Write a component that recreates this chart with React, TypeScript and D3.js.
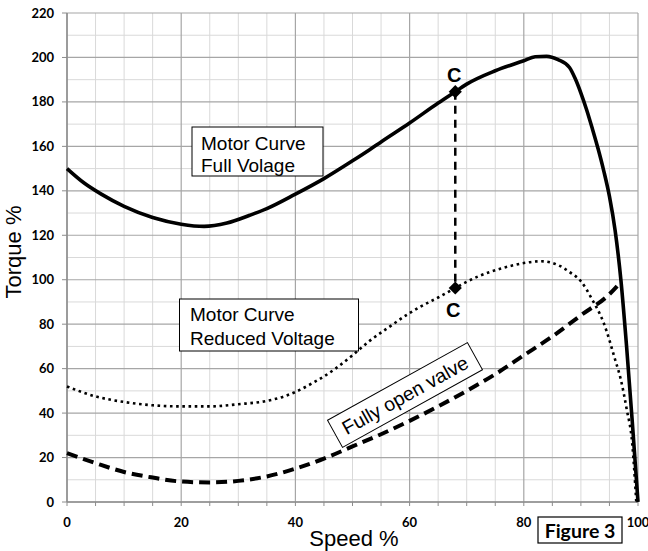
import React from "react";
import * as d3 from "d3";

const W = 648, H = 551;
const M = { left: 67, right: 638, top: 13, bottom: 502 };

const xTicks = [0, 20, 40, 60, 80, 100];
const yTicks = [0, 20, 40, 60, 80, 100, 120, 140, 160, 180, 200, 220];

const fullSpeed = [0, 3, 6, 10, 15, 20, 24, 28, 32, 35, 40, 45, 50, 53, 55, 60, 65, 68, 70, 75, 80, 82, 84, 86, 88, 89, 90, 91, 92, 93, 94, 95, 96, 97, 98, 99, 100];
const fullTorque = [150, 143.5, 138.5, 133, 128, 125, 124, 125.5, 129, 132, 138.5, 145.5, 153.5, 158.5, 162, 170.5, 179.5, 184.6, 188, 194, 198.5, 200.3, 200.5, 199, 195.5, 190.5, 184, 176.5, 168, 159, 149, 137.5, 122, 100, 70, 36, 0];

const reducedSpeed = [0, 5, 10, 15, 20, 25, 30, 35, 38, 40, 43, 45, 47, 50, 53, 56, 60, 62, 65, 68, 72, 76, 80, 83, 86, 88, 90, 92, 94, 96, 97, 98, 99, 99.7];
const reducedTorque = [52, 47.5, 45, 43.5, 43, 43, 44, 45.5, 47.5, 49.5, 53.5, 56.5, 60, 66, 72.5, 78, 85, 88, 92, 96.3, 101.5, 105, 107.5, 108.3, 106.6, 103.5, 99.3, 91, 80.5, 64, 55, 42, 26, 0];

const valveSpeed = [0, 5, 10, 15, 20, 25, 30, 35, 40, 45, 50, 55, 60, 65, 70, 75, 80, 85, 90, 95, 97];
const valveTorque = [22, 17.5, 13.5, 11, 9.2, 8.8, 9.5, 11.5, 15, 19.5, 25, 30.5, 36.5, 43, 50, 57.5, 66, 74.5, 84, 93.5, 99];

const pointC = { speed: 68, full: 184.6, reduced: 96.3 };

const x = d3.scaleLinear().domain([0, 100]).range([M.left, M.right]);
const y = d3.scaleLinear().domain([0, 220]).range([M.bottom, M.top]);

function pathOf(xs: number[], ys: number[]) {
  const line = d3.line<number>().x((_, i) => x(xs[i])).y((_, i) => y(ys[i])).curve(d3.curveMonotoneX);
  return line(xs.map((_, i) => i)) || "";
}

export default function App() {
  const xMinor = d3.range(0, 101, 5);
  const yMinor = d3.range(0, 221, 10);
  const diamond = d3.symbol().type(d3.symbolDiamond2).size(110)() || "";
  const cx = x(pointC.speed);
  const angle = -29;
  return (
    <svg width={W} height={H} style={{ position: "absolute", left: 0, top: 0, background: "#fff" }}>
      <rect width={W} height={H} fill="#fff" />
      {xMinor.filter((v) => v % 20 !== 0).map((v) => (
        <line key={"xm" + v} x1={x(v)} x2={x(v)} y1={M.top} y2={M.bottom} stroke="#d9d9d9" strokeWidth={1} />
      ))}
      {yMinor.filter((v) => v % 20 !== 0).map((v) => (
        <line key={"ym" + v} x1={M.left} x2={M.right} y1={y(v)} y2={y(v)} stroke="#d9d9d9" strokeWidth={1} />
      ))}
      {xTicks.map((v) => (
        <line key={"xM" + v} x1={x(v)} x2={x(v)} y1={M.top} y2={M.bottom} stroke="#a6a6a6" strokeWidth={1.2} />
      ))}
      {yTicks.map((v) => (
        <line key={"yM" + v} x1={M.left} x2={M.right} y1={y(v)} y2={y(v)} stroke="#a6a6a6" strokeWidth={1.2} />
      ))}
      <line x1={M.left} x2={M.left} y1={M.top} y2={M.bottom} stroke="#8c8c8c" strokeWidth={1.5} />
      <line x1={M.left} x2={M.right} y1={M.bottom} y2={M.bottom} stroke="#8c8c8c" strokeWidth={1.5} />
      {xMinor.map((v) => (
        <line key={"xt" + v} x1={x(v)} x2={x(v)} y1={M.bottom} y2={M.bottom + 4} stroke="#8c8c8c" strokeWidth={1} />
      ))}
      {yTicks.map((v) => (
        <line key={"yt" + v} x1={M.left - 5} x2={M.left} y1={y(v)} y2={y(v)} stroke="#8c8c8c" strokeWidth={1} />
      ))}
      {yTicks.map((v) => (
        <text key={"yl" + v} x={54} y={y(v) + 4.5} textAnchor="end" fontFamily="Lato" fontWeight="bold" fontSize={13} fill="#000">{v}</text>
      ))}
      {xTicks.map((v) => (
        <text key={"xl" + v} x={x(v)} y={527} textAnchor="middle" fontFamily="Lato" fontWeight="bold" fontSize={13} fill="#000">{v}</text>
      ))}
      <text x={354} y={546} textAnchor="middle" fontFamily="Liberation Sans" fontSize={22} fill="#000">Speed %</text>
      <text transform={`translate(21,252) rotate(-90)`} textAnchor="middle" fontFamily="Liberation Sans" fontSize={22} fill="#000">Torque %</text>

      <path d={pathOf(valveSpeed, valveTorque)} fill="none" stroke="#000" strokeWidth={4} strokeDasharray="11 6" />
      <path d={pathOf(reducedSpeed, reducedTorque)} fill="none" stroke="#000" strokeWidth={2.6} strokeDasharray="2.6 3.6" />
      <path d={pathOf(fullSpeed, fullTorque)} fill="none" stroke="#000" strokeWidth={3.6} strokeLinejoin="round" />

      <line x1={cx} x2={cx} y1={y(pointC.full)} y2={y(pointC.reduced)} stroke="#000" strokeWidth={2.5} strokeDasharray="8 6" />
      <path d={diamond} transform={`translate(${cx},${y(pointC.full)})`} fill="#000" />
      <path d={diamond} transform={`translate(${cx},${y(pointC.reduced)})`} fill="#000" />
      <text x={cx - 1} y={82} textAnchor="middle" fontFamily="Liberation Sans" fontWeight="bold" fontSize={20} fill="#000">C</text>
      <text x={cx - 2} y={317} textAnchor="middle" fontFamily="Liberation Sans" fontWeight="bold" fontSize={20} fill="#000">C</text>

      <rect x={192} y={127} width={131} height={49} fill="#fff" stroke="#000" strokeWidth={1} />
      <text x={201} y={149.5} fontFamily="Liberation Sans" fontSize={19} fill="#000">Motor Curve</text>
      <text x={201} y={172} fontFamily="Liberation Sans" fontSize={19} fill="#000">Full Volage</text>

      <rect x={179.5} y={299} width={179} height={52} fill="#fff" stroke="#000" strokeWidth={1} />
      <text x={190} y={321} fontFamily="Liberation Sans" fontSize={19} fill="#000">Motor Curve</text>
      <text x={190} y={344.5} fontFamily="Liberation Sans" fontSize={19} fill="#000">Reduced Voltage</text>

      <g transform={`translate(405,395) rotate(${angle})`}>
        <rect x={-80} y={-15.5} width={160} height={31} fill="#fff" stroke="#000" strokeWidth={1} />
        <text x={0} y={7} textAnchor="middle" fontFamily="Liberation Sans" fontSize={19.5} fill="#000">Fully open valve</text>
      </g>

      <rect x={538} y={517} width={84} height={26} fill="#fff" stroke="#000" strokeWidth={1.2} />
      <text x={580} y={537.5} textAnchor="middle" fontFamily="Lato" fontWeight="bold" fontSize={19.5} fill="#000">Figure 3</text>
    </svg>
  );
}
